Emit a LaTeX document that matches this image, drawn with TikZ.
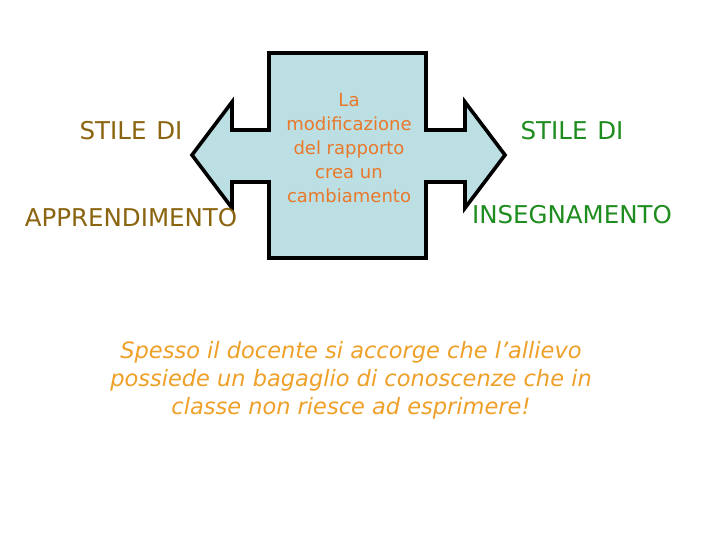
\documentclass[tikz,border=0pt]{standalone}
\usepackage{fontspec}
\setmainfont{DejaVu Sans}
\definecolor{boxfill}{HTML}{BCDFE3}
\definecolor{browntxt}{HTML}{8B6410}
\definecolor{greentxt}{HTML}{1E8C1E}
\definecolor{orangetxt}{HTML}{E8782A}
\definecolor{yellowtxt}{HTML}{EFA028}
\begin{document}
\begin{tikzpicture}[x=1pt,y=-1pt,
  lbl/.style={inner sep=0pt, font=\fontsize{24.5}{28}\selectfont},
  mid/.style={inner sep=0pt, align=center, text=orangetxt, font=\fontsize{18}{24}\selectfont},
  note/.style={inner sep=0pt, align=center, text=yellowtxt, font=\fontsize{22.5}{28}\selectfont\itshape}]
\useasboundingbox (0,0) rectangle (720,540);
\fill[white] (0,0) rectangle (720,540);
\draw[line width=3.6pt, line join=miter, fill=boxfill]
  (192,155) -- (232,102) -- (232,130) -- (269,130) -- (269,53) -- (426,53) -- (426,130)
  -- (465,130) -- (465,102) -- (505,155) -- (465,208) -- (465,182) -- (426,182)
  -- (426,258) -- (269,258) -- (269,182) -- (232,182) -- (232,208) -- cycle;
\node[mid] (c) at (349,148) {La\\modificazione\\del rapporto\\crea un\\cambiamento};
\node[lbl, text=browntxt] (s1) at (131,131) {STILE\hspace{0.4em}DI};
\node[lbl, text=browntxt] (a1) at (131,218) {APPRENDIMENTO};
\node[lbl, text=greentxt] (s2) at (572,131) {STILE\hspace{0.4em}DI};
\node[lbl, text=greentxt] (i2) at (572,215) {INSEGNAMENTO};
\node[note] (n) at (351,380) {Spesso il docente si accorge che l’allievo\\possiede un bagaglio di conoscenze che in\\classe non riesce ad esprimere!};
\end{tikzpicture}
\end{document}
